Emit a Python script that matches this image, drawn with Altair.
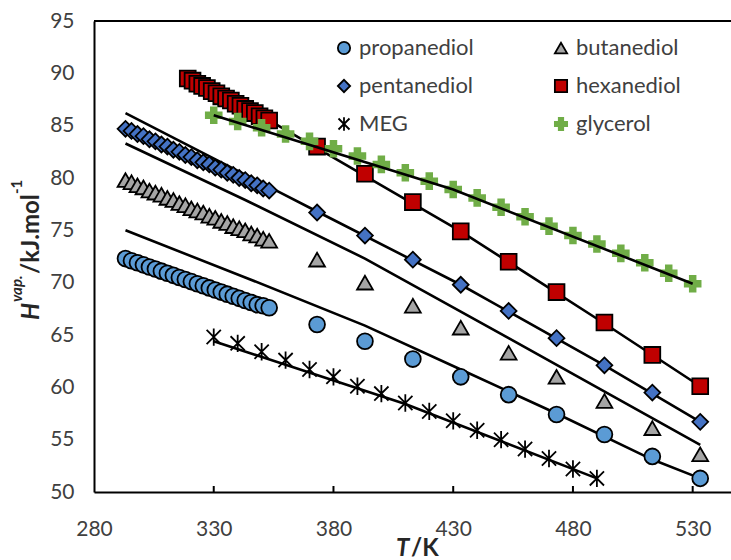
import altair as alt
import pandas as pd

# ---------------------------------------------------------------------------
# Temperatures (K)
# ---------------------------------------------------------------------------
T_dense = [293.15, 295.65, 298.15, 300.65, 303.15, 305.65, 308.15, 310.65, 313.15,
           315.65, 318.15, 320.65, 323.15, 325.65, 328.15, 330.65, 333.15, 335.65,
           338.15, 340.65, 343.15, 345.65, 348.15, 350.65, 353.15]
T_sparse = [373.15, 393.15, 413.15, 433.15, 453.15, 473.15, 493.15, 513.15, 533.15]
T_hex_dense = [319.15, 321.15, 323.15, 325.15, 327.15, 329.15, 331.15, 333.15, 335.15,
               337.15, 339.15, 341.15, 343.15, 345.15, 347.15, 349.15, 351.15, 353.15]
T_glycerol = [330, 340, 350, 360, 370, 380, 390, 400, 410, 420, 430,
              440, 450, 460, 470, 480, 490, 500, 510, 520, 530]
T_meg = [330, 340, 350, 360, 370, 380, 390, 400, 410,
         420, 430, 440, 450, 460, 470, 480, 490]

# ---------------------------------------------------------------------------
# Enthalpy of vaporization (kJ/mol)
# ---------------------------------------------------------------------------
H_propanediol_dense = [72.3, 72.1, 71.9, 71.7, 71.5, 71.3, 71.1, 70.9, 70.7, 70.5,
                       70.3, 70.1, 69.9, 69.7, 69.5, 69.3, 69.1, 68.9, 68.7, 68.5,
                       68.3, 68.1, 67.9, 67.8, 67.6]
H_propanediol_sparse = [66.0, 64.4, 62.7, 61.0, 59.3, 57.4, 55.5, 53.4, 51.3]

H_butanediol_dense = [79.8, 79.6, 79.3, 79.1, 78.8, 78.6, 78.4, 78.1, 77.9, 77.6,
                      77.4, 77.1, 76.9, 76.7, 76.4, 76.2, 75.9, 75.7, 75.4, 75.2,
                      75.0, 74.7, 74.5, 74.2, 74.0]
H_butanediol_sparse = [72.2, 70.0, 67.8, 65.7, 63.3, 61.0, 58.7, 56.1, 53.6]

H_pentanediol_dense = [84.7, 84.5, 84.2, 84.0, 83.7, 83.5, 83.2, 83.0, 82.7, 82.5,
                       82.2, 82.0, 81.7, 81.5, 81.3, 81.0, 80.8, 80.5, 80.3, 80.0,
                       79.8, 79.5, 79.3, 79.0, 78.8]
H_pentanediol_sparse = [76.7, 74.5, 72.2, 69.8, 67.3, 64.7, 62.1, 59.5, 56.7]

H_hexanediol_dense = [89.5, 89.3, 89.0, 88.8, 88.6, 88.3, 88.1, 87.8, 87.6, 87.4,
                      87.1, 86.9, 86.6, 86.4, 86.2, 85.9, 85.7, 85.5]
H_hexanediol_sparse = [83.0, 80.4, 77.7, 74.9, 72.0, 69.1, 66.2, 63.1, 60.1]

H_glycerol = [86.0, 85.4, 84.8, 84.2, 83.5, 82.8, 82.1, 81.3, 80.5, 79.7, 78.9,
              78.1, 77.2, 76.3, 75.4, 74.5, 73.7, 72.8, 71.9, 70.9, 69.9]
H_meg = [64.8, 64.2, 63.4, 62.6, 61.7, 61.0, 60.1, 59.4, 58.5, 57.7, 56.8,
         55.9, 55.0, 54.1, 53.2, 52.2, 51.3]

# Correlation curves (knots along each curve)
fit_propanediol_T = [293.15, 343.15, 393.15, 433.15, 473.15, 513.15, 533.15]
fit_propanediol_H = [75.0, 70.5, 65.9, 61.7, 57.5, 53.1, 51.3]
fit_butanediol_T = [293.15, 343.15, 393.15, 453.15, 533.15]
fit_butanediol_H = [83.3, 77.9, 72.3, 64.7, 54.5]
fit_pentanediol_T = [293.15, 333.15, 373.15, 433.15, 493.15, 533.15]
fit_pentanediol_H = [86.2, 81.5, 76.8, 69.8, 62.1, 56.7]
fit_hexanediol_T = [353.15, 433.15, 493.15, 533.15]
fit_hexanediol_H = [85.5, 74.9, 66.1, 60.1]
fit_glycerol_T = [330, 430, 530]
fit_glycerol_H = [86.0, 78.9, 69.9]
fit_meg_T = [330, 410, 490]
fit_meg_H = [64.4, 58.4, 51.3]

x_ticks = [280, 330, 380, 430, 480, 530]
y_ticks = [50, 55, 60, 65, 70, 75, 80, 85, 90, 95]
inner_ticks = [330, 380, 430, 480, 530]

# legend is laid out column by column, so this order reads row by row
series_names = ["propanediol", "pentanediol", "MEG", "butanediol", "hexanediol", "glycerol"]

# ---------------------------------------------------------------------------
# Tables
# ---------------------------------------------------------------------------
def rows(name, T, H):
    return [{"series": name, "T": t, "H": h} for t, h in zip(T, H)]

points = pd.DataFrame(
    rows("propanediol", T_dense + T_sparse, H_propanediol_dense + H_propanediol_sparse)
    + rows("butanediol", T_dense + T_sparse, H_butanediol_dense + H_butanediol_sparse)
    + rows("pentanediol", T_dense + T_sparse, H_pentanediol_dense + H_pentanediol_sparse)
    + rows("hexanediol", T_hex_dense + T_sparse, H_hexanediol_dense + H_hexanediol_sparse)
    + rows("MEG", T_meg, H_meg)
    + rows("glycerol", T_glycerol, H_glycerol)
)

fits_under = pd.DataFrame(
    rows("propanediol", fit_propanediol_T, fit_propanediol_H)
    + rows("butanediol", fit_butanediol_T, fit_butanediol_H)
    + rows("pentanediol", fit_pentanediol_T, fit_pentanediol_H)
    + rows("hexanediol", fit_hexanediol_T, fit_hexanediol_H)
    + rows("MEG", fit_meg_T, fit_meg_H)
)
fits_over = pd.DataFrame(rows("glycerol", fit_glycerol_T, fit_glycerol_H))

# ---------------------------------------------------------------------------
# Styling
# ---------------------------------------------------------------------------
FONT = "Lato"
LABEL_COLOR = "#404040"
TITLE_COLOR = "#262626"

ASTERISK = "M-0.9,-0.9L0.9,0.9M-0.9,0.9L0.9,-0.9M0,-1.1L0,1.1"
PLUS = "M-0.36,-1H0.36V-0.36H1V0.36H0.36V1H-0.36V0.36H-1V-0.36H-0.36Z"

style = {
    "propanediol": ("circle", "#5B9BD5", "#000000", 1.8),
    "pentanediol": ("diamond", "#4472C4", "#000000", 1.8),
    "MEG": (ASTERISK, "#000000", "#000000", 2.4),
    "butanediol": ("triangle-up", "#A5A5A5", "#000000", 1.8),
    "hexanediol": ("square", "#C00000", "#000000", 1.8),
    "glycerol": (PLUS, "#70AD47", "#70AD47", 0.5),
}
shapes = [style[s][0] for s in series_names]
fills = [style[s][1] for s in series_names]
strokes = [style[s][2] for s in series_names]
stroke_widths = [style[s][3] for s in series_names]

x_scale = alt.Scale(domain=[280, 546], nice=False, zero=False)
y_scale = alt.Scale(domain=[50, 95], nice=False, zero=False)

x_axis = alt.Axis(values=x_ticks, title=None, format="d", grid=False, ticks=False,
                  tickSize=0, labelFont=FONT, labelFontSize=21, labelColor=LABEL_COLOR,
                  labelPadding=26, labelOverlap=False, labelFlush=False,
                  domainColor="#000000", domainWidth=2)
y_axis = alt.Axis(values=y_ticks, title=None, format="d", grid=False, ticks=False,
                  tickSize=0, labelFont=FONT, labelFontSize=21, labelColor=LABEL_COLOR,
                  labelPadding=20, labelOverlap=False, labelFlush=False,
                  domainColor="#000000", domainWidth=2)

legend = alt.Legend(title=None, orient="none", legendX=239, legendY=16, columns=2,
                    columnPadding=76, rowPadding=16, symbolSize=150, labelFont=FONT,
                    labelFontSize=22, labelColor=LABEL_COLOR, labelOffset=4, padding=0)

X = alt.X("T:Q", scale=x_scale, axis=x_axis)
Y = alt.Y("H:Q", scale=y_scale, axis=y_axis)

# Correlation curves drawn beneath the markers
lines_under = alt.Chart(fits_under).mark_line(color="#000000", strokeWidth=2.6).encode(
    x=X, y=Y, detail="series:N", order="T:Q"
)

# Data markers
marks = alt.Chart(points).mark_point(filled=True, size=250, opacity=1).encode(
    x=X, y=Y,
    shape=alt.Shape("series:N", scale=alt.Scale(domain=series_names, range=shapes), legend=legend),
    fill=alt.Fill("series:N", scale=alt.Scale(domain=series_names, range=fills)),
    stroke=alt.Stroke("series:N", scale=alt.Scale(domain=series_names, range=strokes)),
    strokeWidth=alt.StrokeWidth("series:N", scale=alt.Scale(domain=series_names, range=stroke_widths)),
)

# Glycerol curve runs across its markers
lines_over = alt.Chart(fits_over).mark_line(color="#000000", strokeWidth=2.6).encode(
    x=X, y=Y, order="T:Q"
)

# Frame line along the top of the plot
top_frame = alt.Chart(pd.DataFrame({"H": [95]})).mark_rule(color="#000000", strokeWidth=2).encode(
    y=Y
)

# Inward-pointing tick marks on the temperature axis
tick_marks = alt.Chart(pd.DataFrame({"T": inner_ticks})).mark_rule(color="#000000", strokeWidth=2).encode(
    x=X, y=alt.value(471), y2=alt.value(465)
)


def piece(txt, x, y, size, style="normal", weight="bold", angle=0):
    return alt.Chart(pd.DataFrame({"label": [txt]})).mark_text(
        align="left", baseline="alphabetic", angle=angle, font=FONT, fontSize=size,
        fontStyle=style, fontWeight=weight, color=TITLE_COLOR
    ).encode(text="label:N", x=alt.value(x), y=alt.value(y))


# Axis titles with italic symbols and superscripts
titles = [
    piece("T", 302, 535, 24, style="italic"),
    piece("/K", 317, 535, 24),
    piece("H", -55, 299, 24, style="italic", angle=270),
    piece("vap.", -72, 281, 15, style="italic", angle=270),
    piece("/kJ.mol", -55, 253, 24, angle=270),
    piece("-1", -72, 173, 15, angle=270),
]

chart = alt.layer(lines_under, marks, lines_over, top_frame, tick_marks, *titles).properties(
    width=637,
    height=471,
    autosize=alt.AutoSizeParams(type="none"),
    padding={"left": 94, "top": 21, "right": 0, "bottom": 68},
    background="#ffffff",
).configure_view(strokeWidth=0)

chart.save("out.html", embed_options={"renderer": "svg", "actions": False})
